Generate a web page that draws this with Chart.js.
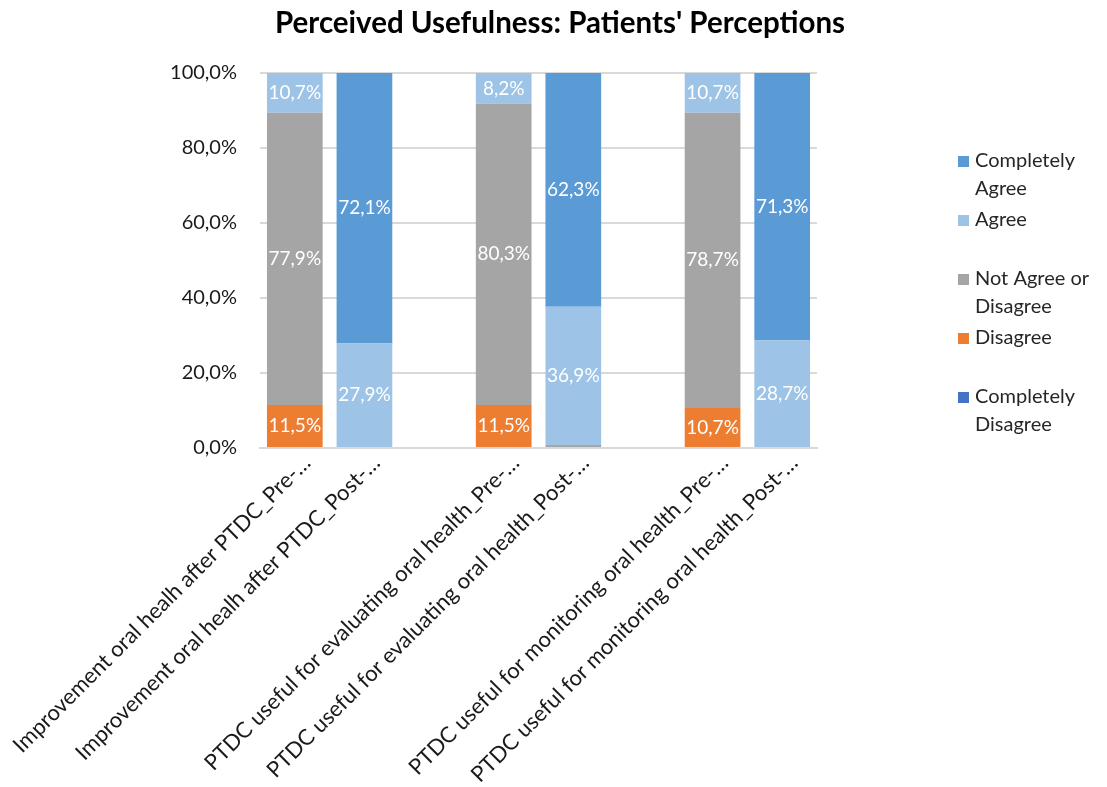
<!DOCTYPE html>
<html lang="en">

<head>
    <meta charset="UTF-8">
    <title>Perceived Usefulness</title>
    <style>
        body { margin: 0; background: #fff; }
        .blocker { width: 1107px; height: 787px; }
    </style>
    <script src="https://cdn.jsdelivr.net/npm/chart.js"></script>
</head>

<body>
    <div class="blocker">
        <canvas id="myChart" width="1107" height="787"></canvas>
    </div>

    <script>
        // empty strings are the spacer categories between the pairs
        const categories = [
            'Improvement oral healh after PTDC_Pre-…',
            'Improvement oral healh after PTDC_Post-…',
            '',
            'PTDC useful for evaluating oral health_Pre-…',
            'PTDC useful for evaluating oral health_Post-…',
            '',
            'PTDC useful for monitoring oral health_Pre-…',
            'PTDC useful for monitoring oral health_Post-…'
        ];
        const completelyDisagree = [0, 0, null, 0, 0, null, 0, 0];
        const disagree = [11.5, 0, null, 11.5, 0, null, 10.7, 0];
        const neutral = [77.9, 0, null, 80.3, 0.8, null, 78.7, 0];
        const agree = [10.7, 27.9, null, 8.2, 36.9, null, 10.7, 28.7];
        const completelyAgree = [0, 72.1, null, 0, 62.3, null, 0, 71.3];
        const yTicks = [0, 20, 40, 60, 80, 100];

        const seriesNames = [
            ['Completely', 'Disagree'],
            ['Disagree'],
            ['Not Agree or', 'Disagree'],
            ['Agree'],
            ['Completely', 'Agree']
        ];
        const seriesColors = ['#4472C4', '#ED7D31', '#A5A5A5', '#9DC3E6', '#5B9BD5'];
        const seriesValues = [completelyDisagree, disagree, neutral, agree, completelyAgree];
        const chartTitle = "Perceived Usefulness: Patients' Perceptions";

        const fmt = v => v.toFixed(1).replace('.', ',') + '%';
        const FONT = 'Lato';

        // white value labels in the middle of each segment
        const valueLabels = {
            id: 'valueLabels',
            afterDatasetsDraw(chart) {
                const c = chart.ctx;
                c.save();
                c.font = '19px ' + FONT;
                c.fillStyle = '#fff';
                c.textAlign = 'center';
                c.textBaseline = 'middle';
                chart.data.datasets.forEach((ds, i) => {
                    chart.getDatasetMeta(i).data.forEach((bar, j) => {
                        const v = ds.data[j];
                        if (v == null || v < 2) return;
                        const p = bar.getProps(['x', 'y', 'base'], true);
                        c.fillText(fmt(v), p.x, (p.y + p.base) / 2);
                    });
                });
                c.restore();
            }
        };

        // title over the whole picture + legend on the right
        const sideLegend = {
            id: 'sideLegend',
            afterDraw(chart) {
                const c = chart.ctx;
                c.save();
                c.font = 'bold 29.5px ' + FONT;
                c.fillStyle = '#000';
                c.textAlign = 'center';
                c.textBaseline = 'middle';
                c.fillText(chartTitle, 560, 23);

                c.textAlign = 'left';
                c.font = '20px ' + FONT;
                let y = 161;
                for (let i = chart.data.datasets.length - 1; i >= 0; i--) {
                    const ds = chart.data.datasets[i];
                    c.fillStyle = ds.backgroundColor;
                    c.fillRect(958, y - 5, 11, 11);
                    c.fillStyle = '#262626';
                    ds.label.forEach((line, k) => c.fillText(line, 975, y + k * 28));
                    y += 59;
                }
                c.restore();
            }
        };

        const ctx = document.getElementById('myChart');

        new Chart(ctx, {
            type: 'bar',
            data: {
                labels: categories,
                datasets: seriesValues.map((vals, i) => ({
                    label: seriesNames[i],
                    data: vals,
                    backgroundColor: seriesColors[i],
                    barPercentage: 0.8,
                    categoryPercentage: 1.0
                }))
            },
            options: {
                responsive: false,
                animation: false,
                devicePixelRatio: 1,
                layout: {
                    padding: { left: 0, right: 290, top: 73, bottom: 0 }
                },
                plugins: {
                    legend: { display: false },
                    tooltip: { enabled: false },
                    title: { display: false }
                },
                scales: {
                    x: {
                        stacked: true,
                        grid: { display: false, drawTicks: false },
                        border: { display: true, color: '#D9D9D9', width: 2 },
                        ticks: {
                            color: '#1a1a1a',
                            font: { family: FONT, size: 22 },
                            maxRotation: 45,
                            minRotation: 45,
                            autoSkip: false,
                            labelOffset: 12,
                            padding: 2
                        },
                        afterFit(scale) {
                            scale.height = 339;
                            scale.paddingLeft = 0;
                            scale.paddingRight = 0;
                        }
                    },
                    y: {
                        stacked: true,
                        min: 0,
                        max: 100,
                        afterBuildTicks(scale) {
                            scale.ticks = yTicks.map(v => ({ value: v }));
                        },
                        grid: { color: '#D9D9D9', lineWidth: 2, drawTicks: false },
                        border: { display: false },
                        ticks: {
                            color: '#1a1a1a',
                            font: { family: FONT, size: 20 },
                            padding: 23,
                            callback: v => fmt(v)
                        },
                        afterFit(scale) { scale.width = 260; }
                    }
                }
            },
            plugins: [valueLabels, sideLegend]
        });
    </script>
</body>

</html>
